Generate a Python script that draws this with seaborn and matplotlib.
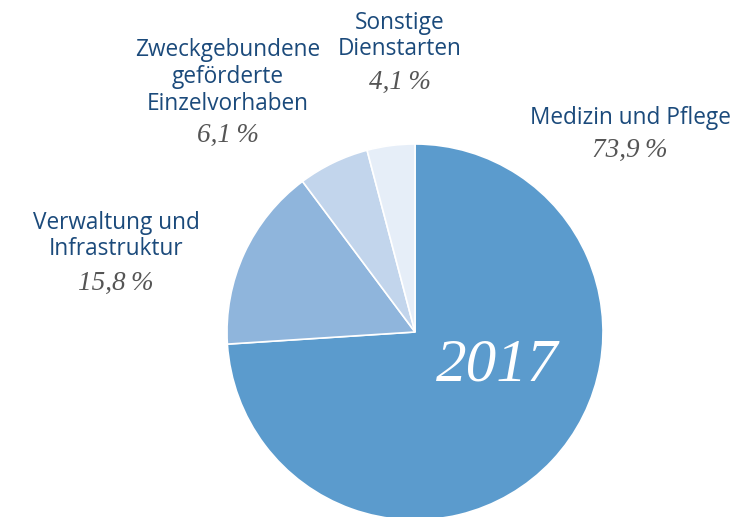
import matplotlib
matplotlib.use("Agg")
import matplotlib.pyplot as plt
import seaborn as sns

sns.set_theme(style="white")

# data
categories = ["Medizin und Pflege", "Verwaltung und\nInfrastruktur",
              "Zweckgebundene\ngeförderte\nEinzelvorhaben", "Sonstige\nDienstarten"]
shares = [73.9, 15.8, 6.1, 4.1]
share_labels = ["73,9%", "15,8%", "6,1%", "4,1%"]
year = "2017"

colors = ["#5b9bcd", "#8fb5dc", "#c2d5ec", "#e6eef8"]
label_color = "#1b4a7b"
pct_color = "#555555"

W, H = 735, 517
fig = plt.figure(figsize=(W / 100, H / 100), dpi=100)
ax = fig.add_axes([0, 0, 1, 1])

cx, cy, r = 415, H - 332, 188
ax.pie(shares, colors=colors, startangle=90, counterclock=False,
       center=(cx, cy), radius=r, frame=True,
       wedgeprops=dict(edgecolor="white", linewidth=1.2))
ax.set_xlim(0, W)
ax.set_ylim(0, H)
ax.set_aspect("equal")
ax.axis("off")

# label anchor spots (pixel coords from top) for name block and percentage
spots = [(630, 118, 150), (116, 236, 283), (228, 77, 135), (400, 36, 82)]
for name, pct, (x, y_name, y_pct) in zip(categories, share_labels, spots):
    ax.text(x, H - y_name, name, ha="center", va="center", fontsize=16.3,
            color=label_color, family="Open Sans", fontweight="medium",
            linespacing=1.15)
    ax.text(x, H - y_pct, pct.replace("%", "\u2009%"), ha="center", va="center",
            fontsize=19.5, color=pct_color, family=["Liberation Serif", "DejaVu Serif"],
            style="italic")

ax.text(497, H - 366, year, ha="center", va="center", fontsize=44,
        color="white", family="Liberation Serif", style="italic")

fig.savefig("out.png", dpi=100)
